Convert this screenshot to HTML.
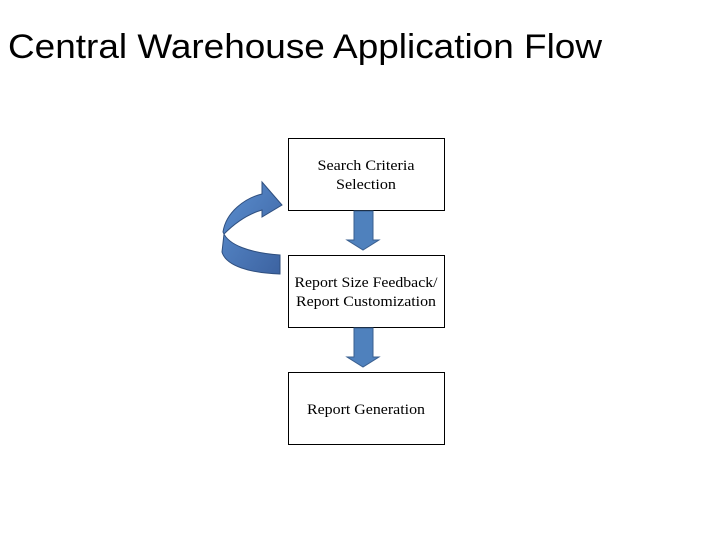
<!DOCTYPE html>
<html><head><style>body{margin:0;background:#fff}</style></head><body>
<svg width="720" height="540" xmlns="http://www.w3.org/2000/svg">
<defs><linearGradient id="g" x1="0" y1="0" x2="1" y2="1"><stop offset="0" stop-color="#5b8fd0"/><stop offset="1" stop-color="#3c62a0"/></linearGradient></defs>
<text x="8" y="58" font-family="Liberation Sans, sans-serif" font-size="34" textLength="594" lengthAdjust="spacingAndGlyphs" fill="#000">Central Warehouse Application Flow</text>
<g fill="#fff" stroke="#000" stroke-width="1">
<rect x="288.5" y="138.5" width="156" height="72"/>
<rect x="288.5" y="255.5" width="156" height="72"/>
<rect x="288.5" y="372.5" width="156" height="72"/>
</g>
<g font-family="Liberation Serif, serif" font-size="15" text-anchor="middle" fill="#000" lengthAdjust="spacingAndGlyphs">
<text x="366" y="170" textLength="97" lengthAdjust="spacingAndGlyphs">Search Criteria</text>
<text x="366" y="189" textLength="60" lengthAdjust="spacingAndGlyphs">Selection</text>
<text x="366" y="287" textLength="143" lengthAdjust="spacingAndGlyphs">Report Size Feedback/</text>
<text x="366" y="306" textLength="140" lengthAdjust="spacingAndGlyphs">Report Customization</text>
<text x="366" y="414" textLength="118" lengthAdjust="spacingAndGlyphs">Report Generation</text>
</g>
<g fill="#4f81bd" stroke="#3a5f8f" stroke-width="1">
<path d="M354,211 H373 V240 H379 L363,250 L347,240 H354 Z"/>
<path d="M354,328 H373 V357 H379 L363,367 L347,357 H354 Z"/>
</g>
<path d="M280,255 C250,253 228,245 223,232 C226,212 245,198 262,194 L262,182 L282,205 L262,217 L262,210 C248,214 236,222 224,234 L222,252 C226,266 250,273 280,274 Z" fill="url(#g)" stroke="#2f4f7f" stroke-width="1"/>
</svg>
</body></html>
